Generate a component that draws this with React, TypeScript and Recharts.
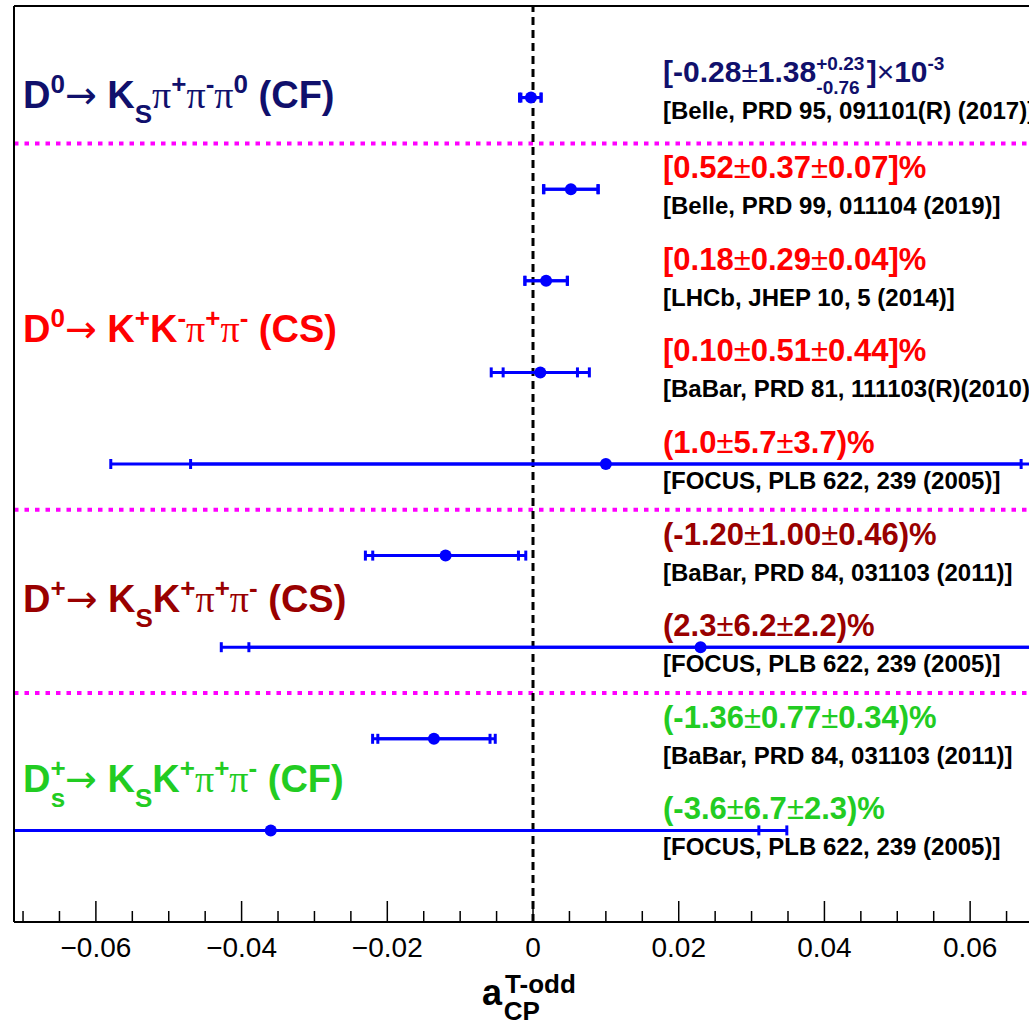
import React from 'react';
import { ScatterChart, Scatter, XAxis, YAxis, ErrorBar, ReferenceLine } from 'recharts';

// one entry per measurement, top to bottom
const ROW_POS = [9, 8, 7, 6, 5, 4, 3, 2, 1];
const CENTRAL = [-0.00028, 0.0052, 0.0018, 0.001, 0.01, -0.012, 0.023, -0.0136, -0.036];
const STAT = [0.00138, 0.0037, 0.0029, 0.0051, 0.057, 0.01, 0.062, 0.0077, 0.067];
const SYS_LO = [0.00076, 0.0007, 0.0004, 0.0044, 0.037, 0.0046, 0.022, 0.0034, 0.023];
const SYS_HI = [0.00023, 0.0007, 0.0004, 0.0044, 0.037, 0.0046, 0.022, 0.0034, 0.023];
const GROUP = [0, 1, 1, 1, 1, 2, 2, 3, 3];
const RESULT_TEXT = [
  '', // first one has asymmetric errors, drawn separately
  '[0.52±0.37±0.07]%',
  '[0.18±0.29±0.04]%',
  '[0.10±0.51±0.44]%',
  '(1.0±5.7±3.7)%',
  '(-1.20±1.00±0.46)%',
  '(2.3±6.2±2.2)%',
  '(-1.36±0.77±0.34)%',
  '(-3.6±6.7±2.3)%',
];
const REF_TEXT = [
  '[Belle, PRD 95, 091101(R) (2017)]',
  '[Belle, PRD 99, 011104 (2019)]',
  '[LHCb, JHEP 10, 5 (2014)]',
  '[BaBar, PRD 81, 111103(R)(2010)]',
  '[FOCUS, PLB 622, 239 (2005)]',
  '[BaBar, PRD 84, 031103 (2011)]',
  '[FOCUS, PLB 622, 239 (2005)]',
  '[BaBar, PRD 84, 031103 (2011)]',
  '[FOCUS, PLB 622, 239 (2005)]',
];
const GROUP_COLORS = ['#10106c', '#ff0000', '#990000', '#22cc22'];
const SEPARATORS = [8.5, 4.5, 2.5];

const X_DOMAIN = [-0.07124, 0.06808];
const Y_DOMAIN = [0, 10];
const MAJOR_TICKS = [-0.06, -0.04, -0.02, 0, 0.02, 0.04, 0.06];
const MAJOR_LABELS = ['\u22120.06', '\u22120.04', '\u22120.02', '0', '0.02', '0.04', '0.06'];
const ALL_TICKS = [
  -0.07, -0.065, -0.06, -0.055, -0.05, -0.045, -0.04, -0.035, -0.03, -0.025, -0.02, -0.015, -0.01, -0.005,
  0, 0.005, 0.01, 0.015, 0.02, 0.025, 0.03, 0.035, 0.04, 0.045, 0.05, 0.055, 0.06, 0.065,
];

const SANS = '"Liberation Sans", Arial, Helvetica, sans-serif';
const NARROW = '"Liberation Sans Narrow", "Arial Narrow", "Liberation Sans", sans-serif';
const SERIF = '"Liberation Serif", "Times New Roman", serif';
const ARROW_FONT = '"DejaVu Sans", sans-serif';
const TEXT_X = 663;

type Seg = { t: string; k?: 'sup' | 'sub' | 'sym' | 'thin' | 'arrow'; dx?: number };

function Rich({ x, y, size, small, off, fill, segs }: { x: number; y: number; size: number; small: number; off: [number, number]; fill: string; segs: Seg[] }) {
  let level = 0;
  return (
    <text x={x} y={y} fill={fill} fontSize={size} fontWeight="bold" fontFamily={SANS} style={{ whiteSpace: 'pre' }}>
      {segs.map((s, i) => {
        const lv = s.k === 'sup' ? -off[0] : s.k === 'sub' ? off[1] : 0;
        const dy = lv - level;
        level = lv;
        const isSmall = s.k === 'sup' || s.k === 'sub';
        const fam = s.k === 'sym' ? SERIF : s.k === 'arrow' ? ARROW_FONT : SANS;
        return (
          <tspan
            key={i}
            dx={s.dx}
            dy={dy}
            fontSize={isSmall ? small : size}
            fontFamily={fam}
            fontWeight={s.k === 'sym' || s.k === 'thin' || s.k === 'arrow' ? 'normal' : 'bold'}
          >
            {s.t}
          </tspan>
        );
      })}
    </text>
  );
}

const splitPm = (s: string): Seg[] => {
  const parts = s.split('±');
  const out: Seg[] = [];
  parts.forEach((p, i) => {
    if (i > 0) out.push({ t: '±', k: 'thin' });
    out.push({ t: p });
  });
  return out;
};

const FIRST_RESULT: Seg[] = [
  { t: '[-0.28' },
  { t: '±', k: 'thin' },
  { t: '1.38' },
  { t: '+0.23', k: 'sup' },
  { t: '-0.76', k: 'sub', dx: -48 },
  { t: ']', dx: 7 },
  { t: '×', k: 'thin' },
  { t: '10' },
  { t: '-3', k: 'sup' },
];

const data = ROW_POS.map((y, i) => ({
  x: CENTRAL[i],
  y,
  idx: i,
  stat: STAT[i],
  tot: [Math.sqrt(STAT[i] ** 2 + SYS_LO[i] ** 2), Math.sqrt(STAT[i] ** 2 + SYS_HI[i] ** 2)],
}));

function AxisTick(props: any) {
  const { x, y, payload } = props;
  const k = MAJOR_TICKS.findIndex((m) => Math.abs(m - payload.value) < 1e-9);
  const len = k >= 0 ? 21 : 11;
  return (
    <g>
      <line x1={x} x2={x} y1={y} y2={y - len} stroke="#000" strokeWidth={1.5} />
      {k >= 0 && (
        <text x={x} y={y + 35} textAnchor="middle" fontSize={28} fontFamily={NARROW} fill="#000">
          {MAJOR_LABELS[k]}
        </text>
      )}
    </g>
  );
}

function PointShape(props: any) {
  const { cx, cy, payload } = props;
  const i = payload.idx;
  const color = GROUP_COLORS[GROUP[i]];
  const first = i === 0;
  const segs = first ? FIRST_RESULT : splitPm(RESULT_TEXT[i]);
  return (
    <g>
      <circle cx={cx} cy={cy} r={6} fill="#0000ff" />
      <Rich x={TEXT_X} y={cy - (first ? 16 : 11)} size={first ? 30 : 31} small={19} off={[12, 12]} fill={color} segs={segs} />
      <text x={TEXT_X} y={cy + (first ? 21 : 25)} fontSize={24} fontWeight="bold" fontFamily={SANS} fill="#000">
        {REF_TEXT[i]}
      </text>
    </g>
  );
}

const arrow: Seg = { t: '\u2192', k: 'arrow' };
const pi: Seg = { t: '\u03c0', k: 'sym' };

const LABELS: { y: number; color: string; segs: Seg[] }[] = [
  {
    y: 108,
    color: GROUP_COLORS[0],
    segs: [{ t: 'D' }, { t: '0', k: 'sup' }, arrow, { t: ' K' }, { t: 'S', k: 'sub' }, pi, { t: '+', k: 'sup' }, pi, { t: '-', k: 'sup' }, pi, { t: '0', k: 'sup' }, { t: ' (CF)' }],
  },
  {
    y: 342,
    color: GROUP_COLORS[1],
    segs: [{ t: 'D' }, { t: '0', k: 'sup' }, arrow, { t: ' K' }, { t: '+', k: 'sup' }, { t: 'K' }, { t: '-', k: 'sup' }, pi, { t: '+', k: 'sup' }, pi, { t: '-', k: 'sup' }, { t: ' (CS)' }],
  },
  {
    y: 612,
    color: GROUP_COLORS[2],
    segs: [{ t: 'D' }, { t: '+', k: 'sup' }, arrow, { t: ' K' }, { t: 'S', k: 'sub' }, { t: 'K' }, { t: '+', k: 'sup' }, pi, { t: '+', k: 'sup' }, pi, { t: '-', k: 'sup' }, { t: ' (CS)' }],
  },
  {
    y: 792,
    color: GROUP_COLORS[3],
    segs: [{ t: 'D' }, { t: '+', k: 'sup' }, { t: 's', k: 'sub', dx: -15 }, arrow, { t: ' K' }, { t: 'S', k: 'sub' }, { t: 'K' }, { t: '+', k: 'sup' }, pi, { t: '+', k: 'sup' }, pi, { t: '-', k: 'sup' }, { t: ' (CF)' }],
  },
];

export default function App() {
  return (
    <div style={{ position: 'fixed', left: 0, top: 0, width: 1029, height: 1023, background: '#fff', overflow: 'hidden' }}>
      <ScatterChart width={1029} height={1023} margin={{ top: 6, right: 0, bottom: 0, left: 14 }}>
        <XAxis
          type="number"
          dataKey="x"
          domain={X_DOMAIN}
          allowDataOverflow
          ticks={ALL_TICKS}
          interval={0}
          tick={<AxisTick />}
          tickLine={false}
          tickSize={0}
          tickMargin={0}
          height={101}
          axisLine={{ stroke: '#000', strokeWidth: 2 }}
        />
        <YAxis type="number" dataKey="y" domain={Y_DOMAIN} allowDataOverflow width={0} tick={false} tickLine={false} axisLine={false} />
        {SEPARATORS.map((s) => (
          <ReferenceLine key={s} y={s} stroke="#ff00ff" strokeWidth={4} strokeDasharray="4.5 6" />
        ))}
        <ReferenceLine x={0} stroke="#000" strokeWidth={3} strokeDasharray="8 5" />
        <Scatter data={data} isAnimationActive={false} shape={<PointShape />}>
          <ErrorBar dataKey="tot" direction="x" width={5} stroke="#0000ff" strokeWidth={3} isAnimationActive={false} />
          <ErrorBar dataKey="stat" direction="x" width={5} stroke="#0000ff" strokeWidth={3} isAnimationActive={false} />
        </Scatter>
        {/* frame: top and left edges */}
        <ReferenceLine y={Y_DOMAIN[1]} stroke="#000" strokeWidth={2} />
        <ReferenceLine x={X_DOMAIN[0]} stroke="#000" strokeWidth={2} />
      </ScatterChart>
      <svg width={1029} height={1023} style={{ position: 'absolute', left: 0, top: 0, pointerEvents: 'none' }}>
        {/* hide error bars that run past the left frame */}
        <rect x={0} y={0} width={13} height={1023} fill="#fff" />
        {LABELS.map((l, i) => (
          <Rich key={i} x={23} y={l.y} size={38} small={26} off={[15, 15]} fill={l.color} segs={l.segs} />
        ))}
        <Rich
          x={482}
          y={1005}
          size={36}
          small={26}
          off={[12, 15]}
          fill="#000"
          segs={[{ t: 'a' }, { t: 'T-odd', k: 'sup', dx: 3 }, { t: 'CP', k: 'sub', dx: -72 }]}
        />
      </svg>
    </div>
  );
}
